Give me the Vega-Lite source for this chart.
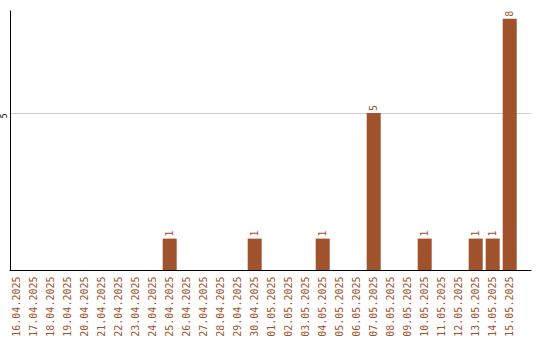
{
  "$schema": "https://vega.github.io/schema/vega-lite/v6.json",
  "autosize": {"type": "none"},
  "padding": {"left": 9, "top": 10, "right": 9, "bottom": 70},
  "width": 522,
  "height": 260,
  "background": "#ffffff",
  "config": {
    "view": {"stroke": null},
    "font": "DejaVu Sans Mono"
  },
  "data": {
    "values": [
      {"date": "16.04.2025", "count": 0},
      {"date": "17.04.2025", "count": 0},
      {"date": "18.04.2025", "count": 0},
      {"date": "19.04.2025", "count": 0},
      {"date": "20.04.2025", "count": 0},
      {"date": "21.04.2025", "count": 0},
      {"date": "22.04.2025", "count": 0},
      {"date": "23.04.2025", "count": 0},
      {"date": "24.04.2025", "count": 0},
      {"date": "25.04.2025", "count": 1},
      {"date": "26.04.2025", "count": 0},
      {"date": "27.04.2025", "count": 0},
      {"date": "28.04.2025", "count": 0},
      {"date": "29.04.2025", "count": 0},
      {"date": "30.04.2025", "count": 1},
      {"date": "01.05.2025", "count": 0},
      {"date": "02.05.2025", "count": 0},
      {"date": "03.05.2025", "count": 0},
      {"date": "04.05.2025", "count": 1},
      {"date": "05.05.2025", "count": 0},
      {"date": "06.05.2025", "count": 0},
      {"date": "07.05.2025", "count": 5},
      {"date": "08.05.2025", "count": 0},
      {"date": "09.05.2025", "count": 0},
      {"date": "10.05.2025", "count": 1},
      {"date": "11.05.2025", "count": 0},
      {"date": "12.05.2025", "count": 0},
      {"date": "13.05.2025", "count": 1},
      {"date": "14.05.2025", "count": 1},
      {"date": "15.05.2025", "count": 8}
    ]
  },
  "encoding": {
    "x": {
      "field": "date",
      "type": "ordinal",
      "sort": null,
      "scale": {"paddingInner": 0.176, "paddingOuter": 0.44, "align": 0.045},
      "axis": {
        "title": null,
        "domainColor": "#000000",
        "domainWidth": 1,
        "ticks": false,
        "grid": false,
        "labelAngle": -90,
        "labelAlign": "right",
        "labelBaseline": "middle",
        "labelPadding": 6,
        "labelFont": "DejaVu Sans Mono",
        "labelFontSize": 10,
        "labelColor": "#a0522d"
      }
    },
    "y": {
      "field": "count",
      "type": "quantitative",
      "scale": {"domain": [0, 8.28], "nice": false},
      "axis": {
        "title": null,
        "values": [5],
        "offset": -1,
        "domainColor": "#000000",
        "domainWidth": 1,
        "ticks": false,
        "grid": true,
        "gridColor": "#cccccc",
        "gridWidth": 1,
        "labelAngle": -90,
        "labelAlign": "right",
        "labelBaseline": "bottom",
        "labelPadding": 2,
        "labelFont": "DejaVu Sans Mono",
        "labelFontSize": 8,
        "labelColor": "#000000"
      }
    }
  },
  "layer": [
    {
      "mark": {"type": "bar", "color": "#a0522d"}
    },
    {
      "transform": [{"filter": "datum.count > 0"}],
      "mark": {
        "type": "text",
        "angle": 270,
        "align": "left",
        "baseline": "middle",
        "dx": 2,
        "font": "DejaVu Sans Mono",
        "fontSize": 10,
        "color": "#a0522d"
      },
      "encoding": {
        "text": {"field": "count", "type": "quantitative"}
      }
    }
  ]
}
